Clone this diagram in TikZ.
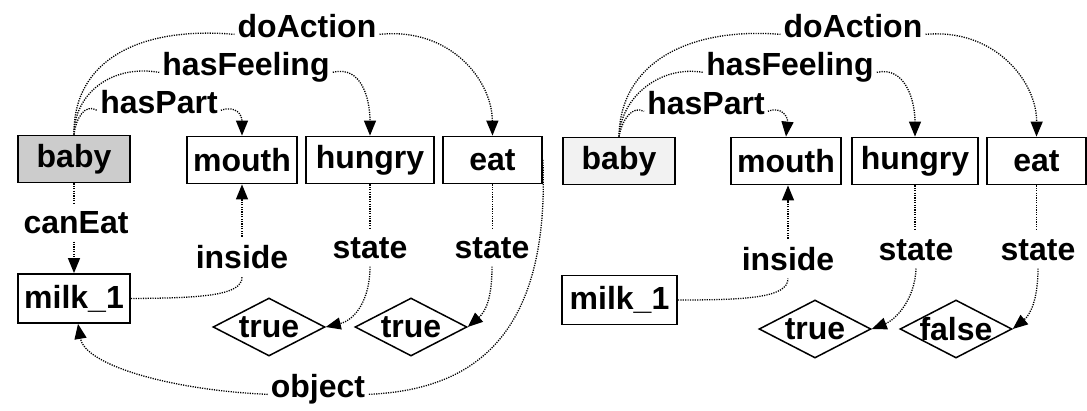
\documentclass[tikz,border=0pt]{standalone}
\usepackage{fontspec}
\setmainfont{Liberation Sans}
\usetikzlibrary{arrows.meta,shapes.geometric}
\begin{document}
\begin{tikzpicture}[x=1pt,y=-1pt,
  every node/.style={font=\fontsize{32}{36}\selectfont\bfseries},
  box/.style={draw, line width=1.8pt, inner sep=0pt, minimum height=47pt},
  val/.style={draw, diamond, line width=1.5pt, inner sep=0pt, minimum width=112pt, minimum height=58pt},
  rel/.style={inner xsep=3pt, inner ysep=8pt, anchor=base},
  link/.style={line width=1.3pt, dash pattern=on 1.2pt off 1.2pt},
  arc/.style={link, -{Triangle[length=15pt,width=12pt]}},
]
\useasboundingbox (0,0) rectangle (1087,410);

% ---------- left graph ----------
\node[box, minimum width=112pt, fill=black!20] (Lbaby) at (74,159) {baby};
\node[box, minimum width=110pt] (Lmouth) at (242,160) {mouth};
\node[box, minimum width=128pt] (Lhungry) at (370,160) {hungry};
\node[box, minimum width=99pt] (Leat) at (492.5,160) {eat};
\node[box, minimum width=112pt, minimum height=49pt] (Lmilk) at (74,298.5) {milk\_1};
\node[val] (Ltrue) at (269,327) {\makebox[0pt]{true}};
\node[val] (Ltrueb) at (411,327) {\makebox[0pt]{true}};

\node[rel] (LdoA) at (307,37) {doAction};
\node[rel] (LhasF) at (246,75) {hasFeeling};
\node[rel] (LhasP) at (159,113) {hasPart};
\node[rel] (LcanEat) at (76,233) {canEat};
\node[rel] (Linside) at (242,268) {inside};
\node[rel] (Lstate) at (370,258) {state};
\node[rel] (Lstateb) at (492,258) {state};
\node[rel] (Lobject) at (318,397) {object};

\draw[link] (Lbaby.north) .. controls (73,60) and (140,26) .. (LdoA.mid west);
\draw[link] (Lbaby.north) .. controls (74,95) and (110,64) .. (LhasF.mid west);
\draw[link] (Lbaby.north) .. controls (76,118) and (85,103) .. (LhasP.mid west);
\draw[arc] (LdoA.mid east) .. controls (450,27) and (492,80) .. (Leat.north);
\draw[arc] (LhasF.mid east) .. controls (362,65) and (370,100) .. (Lhungry.north);
\draw[arc] (LhasP.mid east) .. controls (236,105) and (242,115) .. (Lmouth.north);

\draw[link] (Lbaby.south) -- (Lbaby.south |- LcanEat.north);
\draw[arc] (Lmilk.north |- LcanEat.south) -- (Lmilk.north);

\draw[link] (Lmilk.east) .. controls (200,298) and (243,296) .. (Linside.south);
\draw[arc] (Linside.north) -- (Linside.north |- Lmouth.south);

\draw[link] (Lhungry.south) -- (Lhungry.south |- Lstate.north);
\draw[arc] (Lstate.south) .. controls (370,300) and (355,320) .. (Ltrue.east);
\draw[link] (Leat.south) -- (Leat.south |- Lstateb.north);
\draw[arc] (Lstateb.south) .. controls (492,300) and (485,312) .. (Ltrueb.east);

\draw[link] (Leat.east) .. controls (550,340) and (470,390) .. (Lobject.mid east);
\draw[arc] (Lobject.mid west) .. controls (170,390) and (85,365) .. ([xshift=4pt]Lmilk.south);

% ---------- right graph ----------
\node[box, minimum width=112pt, fill=black!5] (Rbaby) at (619,161) {baby};
\node[box, minimum width=110pt] (Rmouth) at (786,161) {mouth};
\node[box, minimum width=126pt] (Rhungry) at (915,161) {hungry};
\node[box, minimum width=99pt] (Reat) at (1036.5,161) {eat};
\node[box, minimum width=115pt, minimum height=49pt] (Rmilk) at (619.5,300) {milk\_1};
\node[val] (Rtrue) at (815,329) {\makebox[0pt]{true}};
\node[val] (Rfalse) at (956,329) {\makebox[0pt]{false}};

\node[rel] (RdoA) at (853,37) {doAction};
\node[rel] (RhasF) at (790,75) {hasFeeling};
\node[rel] (RhasP) at (706,114) {hasPart};
\node[rel] (Rinside) at (788,270) {inside};
\node[rel] (Rstate) at (916,260) {state};
\node[rel] (Rstateb) at (1038,260) {state};

\draw[link] (Rbaby.north) .. controls (620,62) and (690,27) .. (RdoA.mid west);
\draw[link] (Rbaby.north) .. controls (621,97) and (660,65) .. (RhasF.mid west);
\draw[link] (Rbaby.north) .. controls (622,120) and (632,105) .. (RhasP.mid west);
\draw[arc] (RdoA.mid east) .. controls (995,28) and (1037,82) .. (Reat.north);
\draw[arc] (RhasF.mid east) .. controls (905,66) and (915,100) .. (Rhungry.north);
\draw[arc] (RhasP.mid east) .. controls (782,106) and (788,117) .. (Rmouth.north);

\draw[link] (Rmilk.east) .. controls (745,300) and (788,298) .. (Rinside.south);
\draw[arc] (Rinside.north) -- (Rinside.north |- Rmouth.south);

\draw[link] (Rhungry.south) -- (Rhungry.south |- Rstate.north);
\draw[arc] (Rstate.south) .. controls (915,300) and (895,320) .. (Rtrue.east);
\draw[link] (Reat.south) -- (Reat.south |- Rstateb.north);
\draw[arc] (Rstateb.south) .. controls (1038,300) and (1030,315) .. (Rfalse.east);
\end{tikzpicture}
\end{document}
